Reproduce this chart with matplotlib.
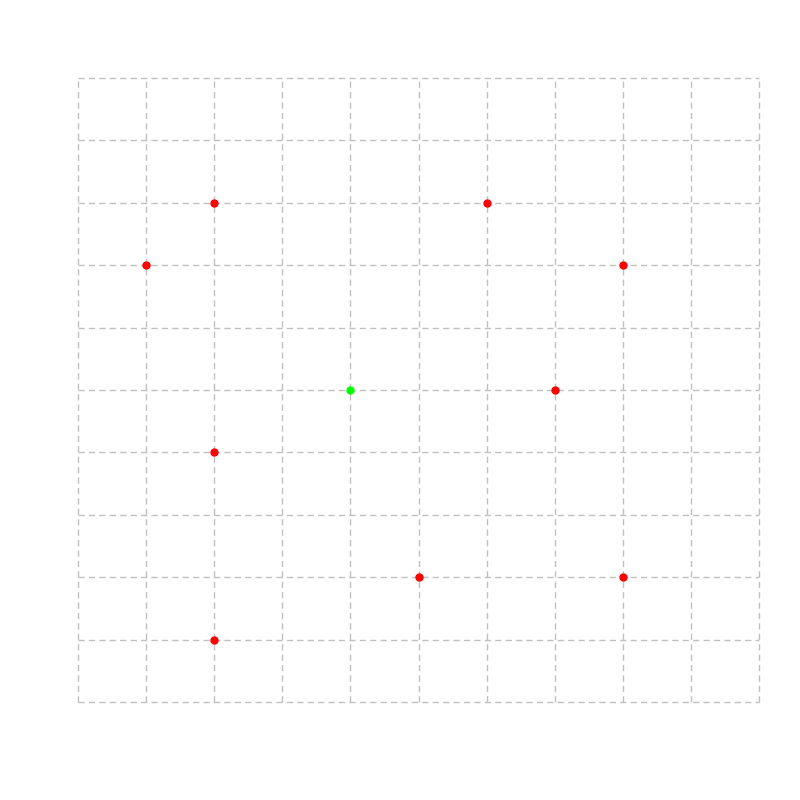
import matplotlib
matplotlib.use("Agg")
import matplotlib.pyplot as plt
import numpy as np

# data (grid units, 0..10)
red_x = [2, 6, 1, 8, 7, 2, 5, 8, 2]
red_y = [8, 8, 7, 7, 5, 4, 2, 2, 1]
green_x = [4]
green_y = [5]
x_ticks = list(range(0, 11))
y_ticks = list(range(0, 11))

fig = plt.figure(figsize=(8, 8), dpi=100)
ax = fig.add_axes([0.0975, 0.1225, 0.8513, 0.78])
ax.set_xlim(0, 10)
ax.set_ylim(0, 10)
ax.set_xticks(x_ticks)
ax.set_yticks(y_ticks)
ax.tick_params(length=0, labelbottom=False, labelleft=False)
for s in ax.spines.values():
    s.set_visible(False)
ax.grid(True, color="#c0c0c0", linestyle=(0, (4.5, 3)), linewidth=1)
for gl in ax.get_xgridlines() + ax.get_ygridlines():
    gl.set_clip_on(False)
ax.set_axisbelow(True)
ax.plot(red_x, red_y, "o", color="#ff0000", markersize=5, linestyle="none", clip_on=False)
ax.plot(green_x, green_y, "o", color="#00ff00", markersize=5, linestyle="none", clip_on=False)
fig.savefig("out.png", dpi=100)
